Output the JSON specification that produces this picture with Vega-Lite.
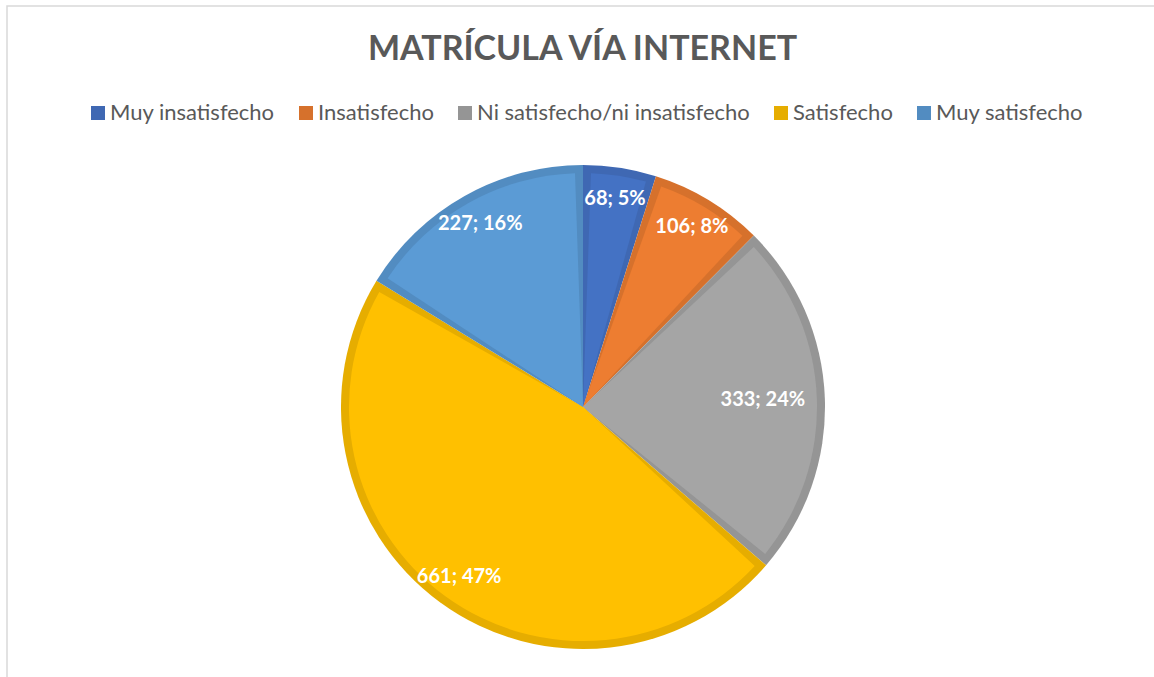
{
  "$schema": "https://vega.github.io/schema/vega-lite/v6.json",
  "autosize": {"type": "fit", "contains": "padding"},
  "width": 1154,
  "height": 677,
  "padding": {"left": 7, "top": 6, "right": -4, "bottom": -4},
  "background": "white",
  "view": {"stroke": "#d9d9d9", "strokeWidth": 1.5},
  "config": {
    "view": {"stroke": "#d9d9d9", "strokeWidth": 1.5},
    "font": "Lato"
  },
  "title": {
    "text": "MATRÍCULA VÍA INTERNET",
    "font": "Lato",
    "fontSize": 34,
    "fontWeight": "bold",
    "color": "#595959",
    "anchor": "middle",
    "baseline": "alphabetic",
    "offset": -88
  },
  "data": {
    "values": [
      {"cat": "Muy insatisfecho", "n": 68, "label": "68; 5%", "ord": 1},
      {"cat": "Insatisfecho", "n": 106, "label": "106; 8%", "ord": 2},
      {"cat": "Ni satisfecho/ni insatisfecho", "n": 333, "label": "333; 24%", "ord": 3},
      {"cat": "Satisfecho", "n": 661, "label": "661; 47%", "ord": 4},
      {"cat": "Muy satisfecho", "n": 227, "label": "227; 16%", "ord": 5}
    ]
  },
  "layer": [
    {
      "mark": {"type": "arc", "outerRadius": 242, "xOffset": 0.5, "yOffset": 63.5},
      "encoding": {
        "theta": {"field": "n", "type": "quantitative", "stack": true},
        "order": {"field": "ord", "type": "quantitative"},
        "color": {
          "field": "cat",
          "type": "nominal",
          "scale": {
            "domain": ["Muy insatisfecho", "Insatisfecho", "Ni satisfecho/ni insatisfecho", "Satisfecho", "Muy satisfecho"],
            "range": ["#3F68B3", "#D6712C", "#959595", "#E6AD00", "#528CC1"]
          },
          "legend": {
            "title": null,
            "orient": "none",
            "direction": "horizontal",
            "legendX": 80,
            "legendY": 96,
            "symbolType": "square",
            "symbolSize": 196,
            "symbolStrokeWidth": 0,
            "labelFont": "Lato",
            "labelFontSize": 22,
            "labelColor": "#595959",
            "labelOffset": 1,
            "columnPadding": 20,
            "labelLimit": 400
          }
        }
      }
    },
    {
      "mark": {"type": "arc", "outerRadius": 234, "padAngle": 0.0684, "xOffset": 0.5, "yOffset": 63.5},
      "encoding": {
        "theta": {"field": "n", "type": "quantitative", "stack": true},
        "order": {"field": "ord", "type": "quantitative"},
        "fill": {
          "field": "cat",
          "type": "nominal",
          "scale": {
            "domain": ["Muy insatisfecho", "Insatisfecho", "Ni satisfecho/ni insatisfecho", "Satisfecho", "Muy satisfecho"],
            "range": ["#4472C4", "#ED7D31", "#A5A5A5", "#FFC000", "#5B9BD5"]
          },
          "legend": null
        }
      }
    },
    {
      "mark": {"type": "text", "font": "Lato", "fontSize": 20, "fontWeight": "bold", "color": "white", "radius": 210, "xOffset": 0.5, "yOffset": 63.5},
      "encoding": {
        "theta": {"field": "n", "type": "quantitative", "stack": true},
        "order": {"field": "ord", "type": "quantitative"},
        "text": {"field": "label", "type": "nominal"},
        "opacity": {"condition": {"test": "datum.cat === 'Ni satisfecho/ni insatisfecho'", "value": 0}, "value": 1}
      }
    },
    {
      "mark": {"type": "text", "font": "Lato", "fontSize": 20, "fontWeight": "bold", "color": "white", "radius": 180, "xOffset": 0.5, "yOffset": 63.5},
      "encoding": {
        "theta": {"field": "n", "type": "quantitative", "stack": true},
        "order": {"field": "ord", "type": "quantitative"},
        "text": {"field": "label", "type": "nominal"},
        "opacity": {"condition": {"test": "datum.cat === 'Ni satisfecho/ni insatisfecho'", "value": 1}, "value": 0}
      }
    }
  ]
}
